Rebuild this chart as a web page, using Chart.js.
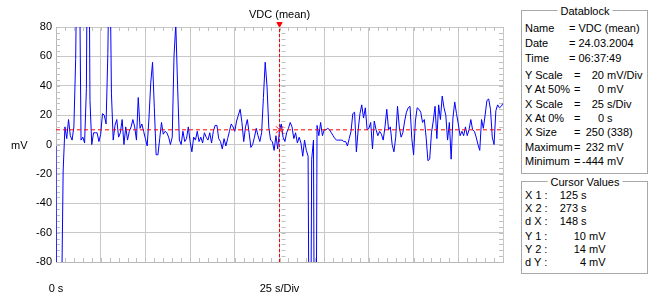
<!DOCTYPE html>
<html>
<head>
<meta charset="utf-8">
<script src="https://cdn.jsdelivr.net/npm/chart.js@4/dist/chart.umd.min.js"></script>
<style>
body{margin:0;background:#fff;font-family:"Liberation Sans",Arial,sans-serif;font-size:11px;color:#000;}
#wrap{position:relative;width:652px;height:293px;overflow:hidden;}
#scope{position:absolute;left:0;top:0;}
.group{position:absolute;border:1px solid #a8a8a8;}
.cap{position:absolute;white-space:nowrap;background:#fff;padding:0 3px;line-height:13px;transform:translate(-50%,-50%);}
.cell{position:absolute;white-space:nowrap;line-height:13px;}
</style>
</head>
<body>
<div id="wrap">
  <canvas id="scope" width="515" height="293"></canvas>
  <div class="group" id="dataBox" style="left:521px;top:10px;width:125px;height:162px;"></div>
  <div class="cap" style="left:585px;top:11px;">Datablock</div>
  <div class="group" id="cursorBox" style="left:521px;top:181px;width:125px;height:91px;"></div>
  <div class="cap" style="left:585px;top:182px;">Cursor Values</div>
</div>
<script>
// trace, one sample per second (mV)
var mv = [
  -1, -444, -160, -120, -18, 12, 4, 17, 6, 3,
  12, 58, 160, 140, 3, 5, 1, 38, 232, 30,
  0, 8, 8, 8, 2, 7, 21, 20, 14, 62,
  150, 35, 3, 13, 17, 5, 8, 17, 0, 12,
  3, 9, 12, 17, 12, 3, 32, 11, 14, 9,
  4, -1, 18, 42, 56, 25, -7, -7, 4, 15,
  7, 9, 8, 5, 0, 5, 60, 82, 40, 3,
  0, 9, 2, 4, 12, 2, -5, 5, 3, 9,
  2, 5, 1, 8, 5, 3, 8, 1, 9, 13,
  13, 4, 2, -3, 4, -1, 4, 9, 14, 12,
  9, 16, 20, 24, 15, 2, 12, 17, 8, -2,
  0, 5, 11, 6, 2, 8, 32, 56, 40, 12,
  3, 2, -4, 6, -3, 10, 14, 5, 2, 8,
  11, 15, 12, 4, 8, 1, 5, 1, -8, 3,
  -4, -8, -250, -10, 3, -300, 13, 6, 15, 6,
  10, 10, 11, 10, 8, 6, 4, 3, 3, 3,
  3, 2, 2, -1, 4, 9, 21, 22, -5, 10,
  21, 27, 18, 25, 10, 11, 15, -3, 16, 10,
  6, 9, 7, 3, 12, 24, 10, 12, 0, -5,
  5, 26, 12, 5, 8, 16, 22, 25, 26, 4,
  -7, 16, 25, 24, 22, 15, 17, 5, -11, -10,
  8, 16, 26, 4, 27, 17, 33, 25, 20, 3,
  15, -10, 18, 29, 21, 14, 6, 9, 6, 12,
  6, 10, 17, 10, 9, 5, 0, -4, 17, 11,
  20, 30, 31, 24, 5, 0, 23, 27, 25, 26,
  28
];
var secPerSample = 1;

var xMin = 0, xMax = 250, xDiv = 25, xMinor = 5;
var yMin = -80, yMax = 80, yDiv = 20, yMinor = 4;
var cursorX1 = 125;
var cursorY1 = 10;

var infoNames = ["Name", "Date", "Time"];
var infoTexts = ["VDC (mean)", "24.03.2004", "06:37:49"];
var scaleNames = ["Y Scale", "Y At 50%", "X Scale", "X At 0%", "X Size", "Maximum", "Minimum"];
var scaleNums = ["20", "0", "25", "0", "250", "232", "-444"];
var scaleUnits = ["mV/Div", "mV", "s/Div", "s", "(338)", "mV", "mV"];
var cursorNames = ["X 1 :", "X 2 :", "d X :", "Y 1 :", "Y 2 :", "d Y :"];
var cursorNums = ["125", "273", "148", "10", "14", "4"];
var cursorUnits = ["s", "s", "s", "mV", "mV", "mV"];

var trace = [];
for (var i = 0; i < mv.length; i++) {
  trace.push({x: i * secPerSample, y: mv[i]});
}

Chart.defaults.font.family = "'Liberation Sans', Arial, sans-serif";
Chart.defaults.font.size = 11;
Chart.defaults.color = "#000";

// small tick marks inside the frame and along the cursor
var minorTicks = {
  id: 'minorTicks',
  beforeDatasetsDraw: function(chart) {
    var c = chart.ctx;
    var a = chart.chartArea;
    var xs = chart.scales.x, ys = chart.scales.y;
    var cx = Math.round(xs.getPixelForValue(cursorX1)) + 0.5;
    c.save();
    c.strokeStyle = "#c0c0c0";
    c.lineWidth = 1;
    c.beginPath();
    for (var t = xMin; t <= xMax; t += xMinor) {
      var px = Math.round(xs.getPixelForValue(t)) + 0.5;
      c.moveTo(px, a.top); c.lineTo(px, a.top + 4);
      c.moveTo(px, a.bottom); c.lineTo(px, a.bottom - 4);
    }
    for (var v = yMin; v <= yMax; v += yMinor) {
      var py = Math.round(ys.getPixelForValue(v)) + 0.5;
      c.moveTo(a.left, py); c.lineTo(a.left + 4, py);
      c.moveTo(a.right, py); c.lineTo(a.right - 4, py);
      c.moveTo(cx + 1, py); c.lineTo(cx + 5, py);
    }
    c.stroke();
    c.fillStyle = "#000";
    c.font = "11px 'Liberation Sans', Arial, sans-serif";
    c.textBaseline = "middle";
    c.textAlign = "left";
    c.fillText("mV", 11, ys.getPixelForValue(0) + 1);
    c.restore();
  }
};

var ctx = document.getElementById("scope");
var scope = new Chart(ctx, {
  type: 'line',
  data: {
    datasets: [
      {
        label: "X1 mark",
        data: [{x: cursorX1, y: cursorY1}],
        showLine: false,
        pointStyle: 'crossRot',
        pointRadius: 5,
        borderColor: "#ff0000",
        borderWidth: 1,
        order: 0
      },
      {
        label: "X1 top",
        data: [{x: cursorX1, y: yMax + 2}],
        showLine: false,
        pointStyle: 'triangle',
        rotation: 180,
        pointRadius: 3,
        borderColor: "#ff0000",
        backgroundColor: "#ff0000",
        borderWidth: 1,
        clip: false,
        order: 0
      },
      {
        label: "Y1",
        data: [{x: xMin, y: cursorY1}, {x: xMax, y: cursorY1}],
        borderColor: "#ff0000",
        borderDash: [4, 3],
        borderWidth: 1,
        pointRadius: 0,
        order: 1
      },
      {
        label: "X1",
        data: [{x: cursorX1, y: yMin}, {x: cursorX1, y: yMax}],
        borderColor: "#ff0000",
        borderDash: [3, 2],
        borderWidth: 1,
        pointRadius: 0,
        order: 1
      },
      {
        label: "VDC (mean)",
        data: trace,
        borderColor: "#0000ff",
        borderWidth: 1,
        pointRadius: 0,
        tension: 0,
        order: 2
      }
    ]
  },
  options: {
    responsive: false,
    animation: false,
    events: [],
    layout: {padding: {left: 0, right: 12, top: 0, bottom: 0}},
    plugins: {
      legend: {display: false},
      tooltip: {enabled: false}
    },
    scales: {
      x: {
        type: 'linear',
        min: xMin,
        max: xMax,
        // invisible tick marks push the labels down to the bottom line
        grid: {color: "#c8c8c8", drawTicks: true, tickLength: 20, tickColor: "rgba(0,0,0,0)"},
        border: {color: "#b8b8b8"},
        ticks: {
          stepSize: xDiv,
          autoSkip: false,
          maxRotation: 0,
          padding: 0,
          callback: function(v) {
            if (v == xMin) return "0 s";
            if (v == cursorX1) return xDiv + " s/Div";
            return "";
          }
        },
        afterFit: function(s) { s.height = 31; }
      },
      top: {
        type: 'linear',
        position: 'top',
        min: xMin,
        max: xMax,
        grid: {display: false},
        border: {display: false},
        ticks: {display: false},
        title: {display: true, text: "VDC (mean)", padding: {top: 8, bottom: 4}},
        afterFit: function(s) { s.height = 27; }
      },
      y: {
        min: yMin,
        max: yMax,
        grid: {color: "#c8c8c8", drawTicks: false},
        border: {color: "#b8b8b8"},
        ticks: {stepSize: yDiv, padding: 4},
        afterFit: function(s) { s.width = 56; }
      }
    }
  },
  plugins: [minorTicks]
});

// text panels on the right
var wrap = document.getElementById("wrap");
function cell(text, left, mid, right) {
  var d = document.createElement("div");
  d.className = "cell";
  d.textContent = text;
  d.style.top = (mid - 7) + "px";
  if (right) {
    d.style.left = (left - 60) + "px";
    d.style.width = "60px";
    d.style.textAlign = "right";
  } else {
    d.style.left = left + "px";
  }
  wrap.appendChild(d);
}

var infoRows = [29, 44, 59];
var scaleRows = [76, 90, 105, 119, 133, 148, 162];
var cursorRows = [196, 209, 222, 237, 250, 263];

for (var i = 0; i < infoNames.length; i++) {
  cell(infoNames[i], 525, infoRows[i]);
  cell("= " + infoTexts[i], 569, infoRows[i]);
}
for (var i = 0; i < scaleNames.length; i++) {
  cell(scaleNames[i], 525, scaleRows[i]);
  cell("=", 574, scaleRows[i]);
  cell(scaleNums[i], 604, scaleRows[i], true);
  cell(scaleUnits[i], 607, scaleRows[i]);
}
for (var i = 0; i < cursorNames.length; i++) {
  var numRight = i < 3 ? 578 : 586;
  cell(cursorNames[i], 525, cursorRows[i]);
  cell(cursorNums[i], numRight, cursorRows[i], true);
  cell(cursorUnits[i], numRight + 3, cursorRows[i]);
}
</script>
</body>
</html>
